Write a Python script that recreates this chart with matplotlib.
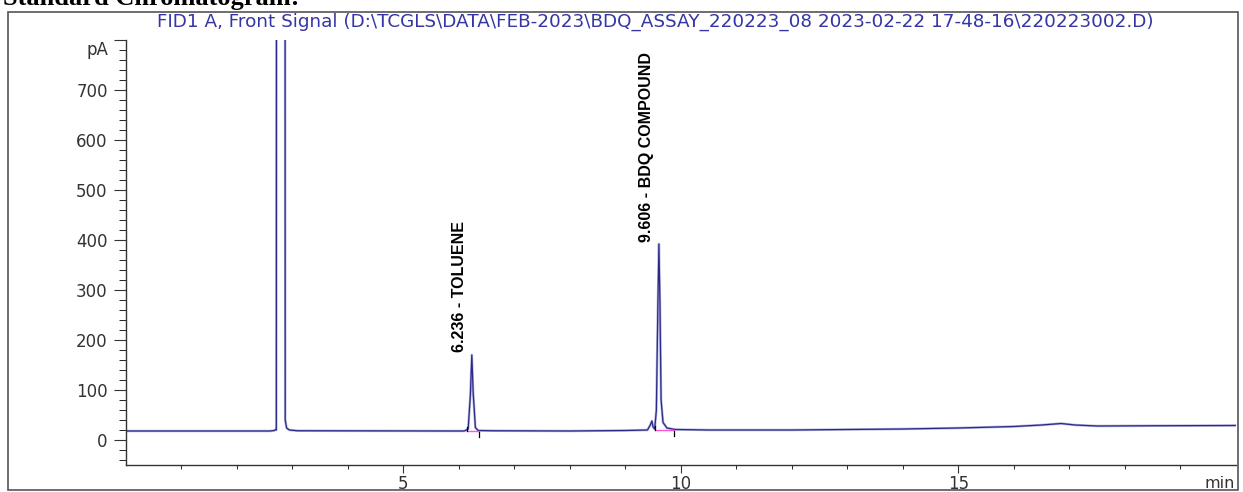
import matplotlib
matplotlib.use("Agg")
import matplotlib.pyplot as plt
from matplotlib.patches import Rectangle

# --- signal trace (min, pA) ---
t_min = [0.0, 2.60, 2.68, 2.70, 2.715, 2.72, 2.87, 2.875, 2.90, 2.95, 3.10,
         5.90, 6.10, 6.17, 6.21, 6.236, 6.26, 6.30, 6.35, 6.60,
         8.00, 9.00, 9.40, 9.45, 9.48, 9.50, 9.53, 9.56, 9.59, 9.606, 9.625,
         9.645, 9.68, 9.75, 9.90, 10.5, 12.0, 13.0, 14.0, 15.0, 16.0, 16.5,
         16.85, 17.1, 17.5, 18.5, 20.0]
signal_pa = [18, 18, 19, 21, 20, 2000, 2000, 40, 24, 20, 18.5,
             18, 18, 22, 90, 170, 95, 25, 19, 18.5,
             18, 19, 20, 30, 38, 26, 22, 60, 290, 392, 270,
             80, 35, 24, 21, 20, 20, 21, 22, 24, 27, 30,
             33, 30, 28, 28.5, 29]

# integration baselines (start, end, level) and peak labels
base_start = [6.15, 9.54]
base_end = [6.37, 9.87]
base_level = [18.5, 20.5]
peak_rt = [6.236, 9.606]
peak_top = [176, 396]
peak_names = ["6.236 - TOLUENE", "9.606 - BDQ COMPOUND"]

title = ("FID1 A, Front Signal (D:\\TCGLS\\DATA\\FEB-2023\\BDQ_ASSAY_220223_08 "
         "2023-02-22 17-48-16\\220223002.D)")

W, H = 1243, 492
fig = plt.figure(figsize=(W / 100, H / 100), dpi=100)

# outer frame
fig.patches.append(Rectangle((8 / W, 2 / H), 1230 / W, 478 / H, transform=fig.transFigure,
                             fill=False, edgecolor="#555555", linewidth=1.2))

# caption, cut at the top edge as in the source
fig.text(3 / W, 1 - 5 / H, "Standard Chromatogram:", family="Liberation Serif",
         weight="bold", fontsize=19, va="baseline", ha="left")

fig.text(655 / W, 1 - 22 / H, title, color="#3535a5", family="DejaVu Sans",
         fontsize=13.2, ha="center", va="center")

ax = fig.add_axes([125.6 / W, (H - 465) / H, (1236 - 125.6) / W, 425 / H])
ax.plot(t_min, signal_pa, color="#b4b4dc", linewidth=1.8)
ax.plot(t_min, signal_pa, color="#2a2a8a", linewidth=0.9)

for s, e, lv in zip(base_start, base_end, base_level):
    ax.plot([s, e], [lv, lv], color="#ff55dd", linewidth=1.0)
    ax.plot([s, s], [lv, lv + 8], color="black", linewidth=0.9)
    ax.plot([e, e], [lv - 2, lv - 12], color="black", linewidth=0.9)

for rt, top, name in zip(peak_rt, peak_top, peak_names):
    ax.text(rt - 0.23, top, name, rotation=90, ha="center", va="bottom",
            family="Liberation Sans", weight="bold", fontsize=11.5,
            color="black")

ax.set_xlim(0, 20)
ax.set_ylim(-50, 800)
ax.spines["top"].set_visible(False)
ax.spines["right"].set_visible(False)
for sp in ("left", "bottom"):
    ax.spines[sp].set_color("#333333")
    ax.spines[sp].set_linewidth(1.0)

ax.set_xticks([5, 10, 15])
ax.set_xticks(range(1, 20), minor=True)
ax.set_yticks(range(0, 801, 100))
ax.set_yticklabels([str(v) for v in range(0, 701, 100)] + [""])
ax.set_yticks(range(-40, 800, 20), minor=True)
ax.tick_params(axis="both", which="major", direction="out", colors="#333333",
               labelcolor="#333333", labelsize=12)
ax.tick_params(axis="y", which="major", length=8.6, pad=4.3)
ax.tick_params(axis="y", which="minor", length=5)
ax.tick_params(axis="x", which="major", length=5.8, pad=1.5)
ax.tick_params(axis="x", which="minor", length=3)
for lab in ax.get_xticklabels() + ax.get_yticklabels():
    lab.set_family("DejaVu Sans")

ax.text(-0.0155, 780, "pA", transform=ax.get_yaxis_transform(), ha="right", va="center",
        family="DejaVu Sans", fontsize=12, color="#333333")
ax.text(0.999, -0.027, "min", transform=ax.transAxes, ha="right", va="top",
        family="DejaVu Sans", fontsize=11.5, color="#333333")

fig.savefig("out.png", dpi=100)
